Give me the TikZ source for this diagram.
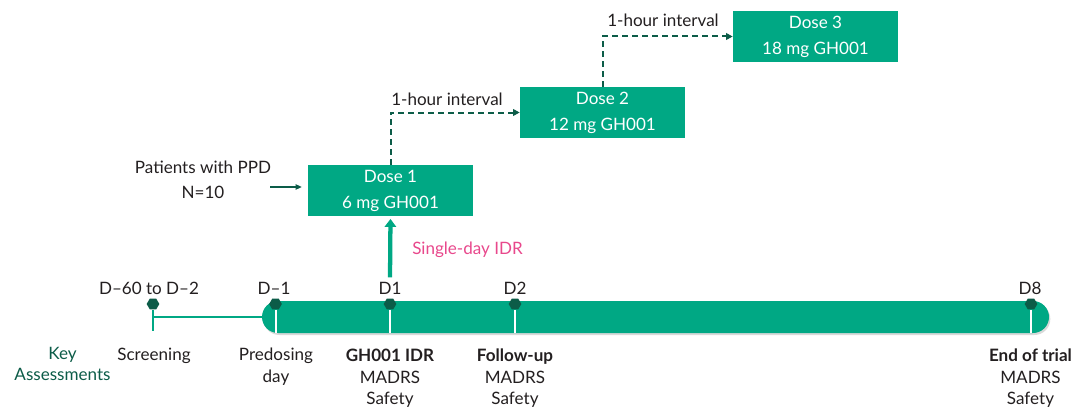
\documentclass[tikz,border=0pt]{standalone}
\usepackage{fontspec}
\setmainfont{Lato}
\usetikzlibrary{arrows.meta,shapes.geometric,shadows}
\definecolor{ghgreen}{RGB}{0,168,132}
\definecolor{ghdark}{RGB}{12,92,72}
\definecolor{ghpink}{RGB}{232,72,140}
\definecolor{ghtext}{RGB}{35,31,32}
\tikzset{
  ghdose/.style={fill=ghgreen, text=white, align=center, minimum width=123.75pt, minimum height=38.25pt, inner sep=0pt, font=\fontsize{12.8}{19.5}\selectfont},
  ghbar/.style={fill=ghgreen, rounded corners=12pt, minimum width=590.25pt, minimum height=24pt, inner sep=0pt, drop shadow={shadow xshift=1pt, shadow yshift=-1.5pt, opacity=.3}},
  ghmark/.style={regular polygon, regular polygon sides=6, fill=ghdark, minimum size=9.5pt, inner sep=0pt},
  ghday/.style={anchor=base, inner sep=2pt},
  ghnote/.style={anchor=north, inner sep=0pt, align=center},
  ghtick/.style={draw=white, line width=1.5pt},
  ghlink/.style={draw=ghgreen, line width=1.5pt},
  ghdash/.style={-{Triangle[length=5pt, width=5pt]}, draw=ghdark, line width=1.5pt, dash pattern=on 4.5pt off 3pt},
  gharr/.style={-{Triangle[length=4.5pt, width=4pt]}, draw=ghdark, line width=0.9pt},
  ghup/.style={-{Triangle[length=6pt, width=8.5pt]}, draw=ghgreen, line width=3.2pt}
}

\begin{document}
\begin{tikzpicture}[x=0.75pt, y=-0.75pt, font=\fontsize{12.8}{16}\selectfont, text=ghtext]
  \useasboundingbox (0,0) rectangle (1078,410);
  % dose escalation
  \node[ghdose] (dose1) at (390.5,190.5) {Dose 1\\6 mg GH001};
  \node[ghdose] (dose2) at (602.5,112.5) {Dose 2\\12 mg GH001};
  \node[ghdose] (dose3) at (815.5,36.5) {Dose 3\\18 mg GH001};
  \draw[ghdash] (dose1.north) |- (dose2.west);
  \draw[ghdash] (dose2.north) |- (dose3.west);
  \node[ghday] (gap1) at (447,105) {1-hour interval};
  \node[ghday] (gap2) at (663,27) {1-hour interval};
  \node[align=center, font=\fontsize{12.8}{18.75}\selectfont] (pts) at (203,180) {Patients with PPD\\N=10};
  \coordinate (ptsin) at (270,187);
  \draw[gharr, shorten >=4.5pt] (ptsin) -- (ptsin -| dose1.west);

  % timeline
  \node[ghbar] (bar) at (655.5,317) {};
  \node[ghmark] (mscr) at (153,304) {};
  \node[ghmark] (mpre) at (275.5,304) {};
  \node[ghmark] (mid) at (390,304) {};
  \node[ghmark] (mfu) at (515,304) {};
  \node[ghmark] (meot) at (1031,304) {};
  \draw[ghlink] (mscr.south) -- ([yshift=1.5pt]mscr |- bar.south);
  \draw[ghlink] (mscr |- bar.west) -- (bar.west);
  \foreach \m in {mpre,mid,mfu,meot}
    \draw[ghtick] (\m.south) -- (\m |- bar.south);

  \node[ghday] (dscr) at (149,294) {D--60 to D--2};
  \node[ghday] (dpre) at (274,294) {D--1};
  \node[ghday] (did) at (390,294) {D1};
  \node[ghday] (dfu) at (515,294) {D2};
  \node[ghday] (deot) at (1030,294) {D8};
  \draw[ghup, shorten <=1pt, shorten >=2pt] (did.north) -- (dose1.south);
  \node[ghday, text=ghpink] (idr) at (467.5,254) {Single-day IDR};

  % assessments
  \node[ghnote, text=ghdark] (key) at (62.5,347) {Key\\Assessments};
  \node[ghnote] (ascr) at (154,348) {Screening};
  \node[ghnote] (apre) at (276,348) {Predosing\\day};
  \node[ghnote] (aid) at (390,349) {\textbf{GH001 IDR}\\MADRS\\Safety};
  \node[ghnote] (afu) at (515,349) {\textbf{Follow-up}\\MADRS\\Safety};
  \node[ghnote] (aeot) at (1030.5,349) {\textbf{End of trial}\\MADRS\\Safety};
\end{tikzpicture}
\end{document}
